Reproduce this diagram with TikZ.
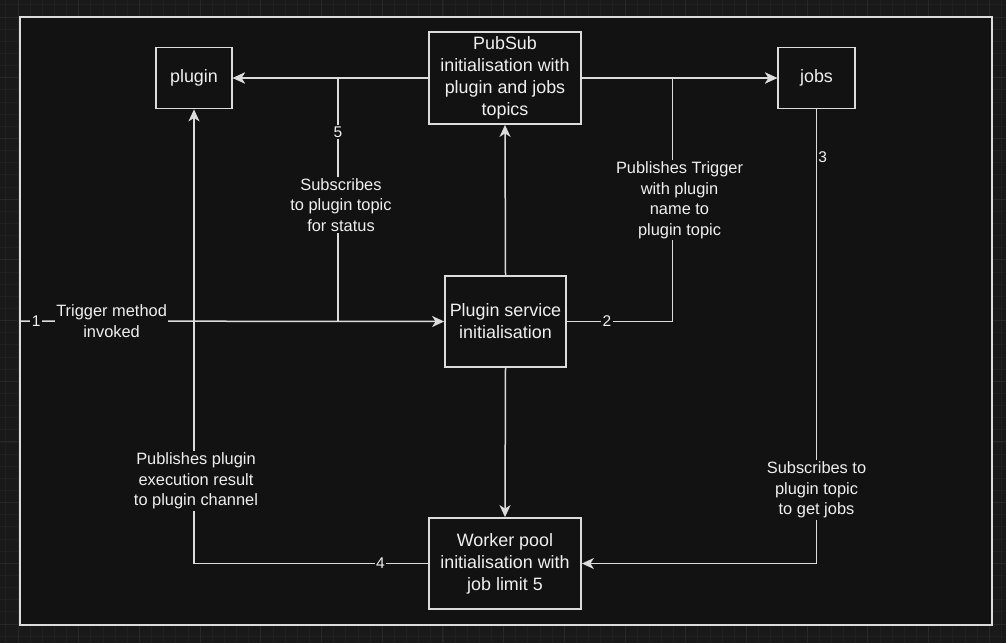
\documentclass[tikz,border=0pt]{standalone}
\usepackage{fontspec}
\setmainfont{Liberation Sans}
\usetikzlibrary{arrows.meta}
\definecolor{outerbg}{HTML}{191919}
\definecolor{minorgrid}{HTML}{202020}
\definecolor{majorgrid}{HTML}{282828}
\definecolor{panel}{HTML}{121212}
\definecolor{stroke}{HTML}{DCDCDC}
\definecolor{ink}{HTML}{F0F0F0}
\tikzset{
  box/.style={draw=stroke, line width=1.8pt, fill=panel, text=ink, align=center,
    font=\fontsize{17.9}{22}\selectfont, inner sep=2pt},
  conn/.style={draw=stroke, line width=1.5pt, -{Stealth[length=12pt,width=11pt,inset=3.5pt]}},
  lbl/.style={fill=panel, text=ink, align=center, inner sep=1.5pt,
    font=\fontsize{16.4}{20.5}\selectfont},
  numlbl/.style={fill=panel, text=ink, inner sep=1.5pt, font=\fontsize{15.5}{18}\selectfont},
}
\begin{document}
\begin{tikzpicture}[x=1pt,y=-1pt]
\useasboundingbox (0,0) rectangle (1006,643);
\fill[outerbg] (0,0) rectangle (1006,643);
% grid
\foreach \i in {-2,...,82} {
  \draw[draw=minorgrid, line width=0.8pt] ({18+12.14*\i},0) -- ({18+12.14*\i},643);
}
\foreach \j in {-2,...,52} {
  \draw[draw=minorgrid, line width=0.8pt] (0,{17+12.14*\j}) -- (1006,{17+12.14*\j});
}
\foreach \i in {-1,...,17} {
  \draw[draw=majorgrid, line width=1pt] ({18+60.7*\i},0) -- ({18+60.7*\i},643);
}
\foreach \j in {-1,...,11} {
  \draw[draw=majorgrid, line width=1pt] (0,{17+60.7*\j}) -- (1006,{17+60.7*\j});
}
% frame
\path[draw=stroke, line width=2pt, fill=panel] (20,17) rectangle (992,625);

% nodes
\node[box, minimum width=76pt, minimum height=61pt] (plugin) at (194,78) {plugin};
\node[box, minimum width=152pt, minimum height=92pt] (pubsub) at (505,78)
  {PubSub\\initialisation with\\plugin and jobs\\topics};
\node[box, minimum width=77pt, minimum height=61pt] (jobs) at (816.5,78) {jobs};
\node[box, minimum width=121pt, minimum height=91pt] (service) at (505.5,321.5)
  {Plugin service\\initialisation};
\node[box, minimum width=152pt, minimum height=91pt] (worker) at (505,563.5)
  {Worker pool\\initialisation with\\job limit 5};

\coordinate (start) at (20,321);
\coordinate (j5) at (338,321);
\coordinate (j2) at (672.5,78);

% connectors
\draw[conn] (pubsub.west) -- (plugin.east);
\draw[conn] (pubsub.east) -- (jobs.west);
\draw[conn] (service.north) -- (pubsub.south);
\draw[conn] (service.south) -- (worker.north);

\draw[conn] (start) -- (service.west)
  node[numlbl, pos=0.038] {1}
  node[lbl, pos=0.216] {Trigger method\\invoked};

\draw[conn] (j5) |- (plugin.east)
  node[numlbl, pos=0.389] {5}
  node[lbl, pos=0.239, xshift=3pt] {Subscribes\\to plugin topic\\for status};

\draw[conn] (service.east) -| (j2)
  node[numlbl, pos=0.19] {2}
  node[lbl, pos=0.749, xshift=7pt] {Publishes Trigger\\with plugin\\name to\\plugin topic}
  -- (jobs.west);

\draw[conn] (jobs.south) |- (worker.east)
  node[text=ink, font=\fontsize{15.5}{18}\selectfont, anchor=west, inner sep=1pt, pos=0.053] {3}
  node[lbl, pos=0.419] {Subscribes to\\plugin topic\\to get jobs};

\draw[conn] (worker.west) -| (plugin.south)
  node[numlbl, pos=0.102] {4}
  node[lbl, pos=0.591, xshift=2pt] {Publishes plugin\\execution result\\to plugin channel};
\end{tikzpicture}
\end{document}
